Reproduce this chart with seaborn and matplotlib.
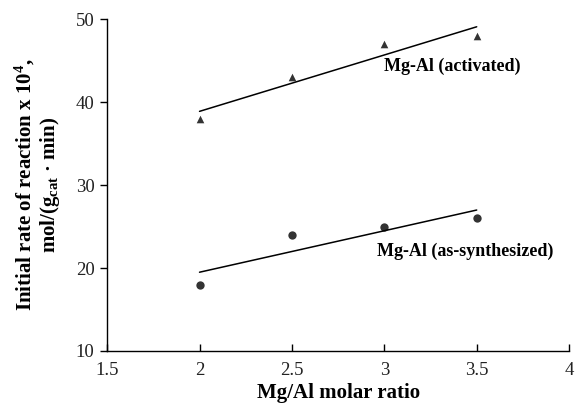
import numpy as np
import pandas as pd
import matplotlib
matplotlib.use("Agg")
import matplotlib.pyplot as plt
import seaborn as sns

ratio = [2.0, 2.5, 3.0, 3.5]
rate_activated = [38, 43, 47, 48]
rate_synthesized = [18, 24, 25, 26]
xticks = [1.5, 2, 2.5, 3, 3.5, 4]
xticklabels = ["1.5", "2", "2.5", "3", "3.5", "4"]
yticks = [10, 20, 30, 40, 50]

sns.set_theme(style="white")
plt.rcParams["font.family"] = ["Liberation Serif", "DejaVu Serif"]
plt.rcParams["mathtext.fontset"] = "custom"
plt.rcParams["mathtext.rm"] = "Liberation Serif:bold"
plt.rcParams["mathtext.it"] = "Liberation Serif:bold"
plt.rcParams["mathtext.bf"] = "Liberation Serif:bold"

df_a = pd.DataFrame({"ratio": ratio, "rate": rate_activated})
df_s = pd.DataFrame({"ratio": ratio, "rate": rate_synthesized})

fig = plt.figure(figsize=(5.76, 4.11), dpi=100)
ax = fig.add_axes([0.186, 0.146, 0.802, 0.807])

sns.regplot(data=df_a, x="ratio", y="rate", ax=ax, ci=None, truncate=True,
            marker="^", color="black",
            scatter_kws={"s": 30, "linewidths": 0},
            line_kws={"linewidth": 1.1})
sns.regplot(data=df_s, x="ratio", y="rate", ax=ax, ci=None, truncate=True,
            marker="o", color="black",
            scatter_kws={"s": 36, "linewidths": 0},
            line_kws={"linewidth": 1.1})

ax.set_xlim(1.5, 4)
ax.set_ylim(10, 50)
ax.set_xticks(xticks)
ax.set_xticklabels(xticklabels)
ax.set_yticks(yticks)
for s in ["top", "right"]:
    ax.spines[s].set_visible(False)
for s in ["left", "bottom"]:
    ax.spines[s].set_color("black")
    ax.spines[s].set_linewidth(1.0)
ax.tick_params(axis="x", direction="in", length=5, width=1, colors="black",
               labelcolor="#222222", labelsize=13.5, pad=8)
ax.tick_params(axis="y", direction="out", length=5, width=1, colors="black",
               labelcolor="#222222", labelsize=13.5, pad=4)
ax.tick_params(axis="both", which="both", left=True, bottom=True)

ax.set_xlabel("Mg/Al molar ratio", fontsize=15, fontweight="bold",
              color="black", labelpad=3)
ax.set_ylabel("Initial rate of reaction x 10$^{4}$,\nmol/(g$_{\\rm cat}$ · min)",
              fontsize=15, fontweight="bold", color="black", labelpad=10,
              linespacing=1.05)

ax.text(3.0, 44.3, "Mg-Al (activated)", fontsize=13, fontweight="bold",
        va="center", ha="left", color="black")
ax.text(2.96, 22.0, "Mg-Al (as-synthesized)", fontsize=13, fontweight="bold",
        va="center", ha="left", color="black")

fig.savefig("out.png", dpi=100)
